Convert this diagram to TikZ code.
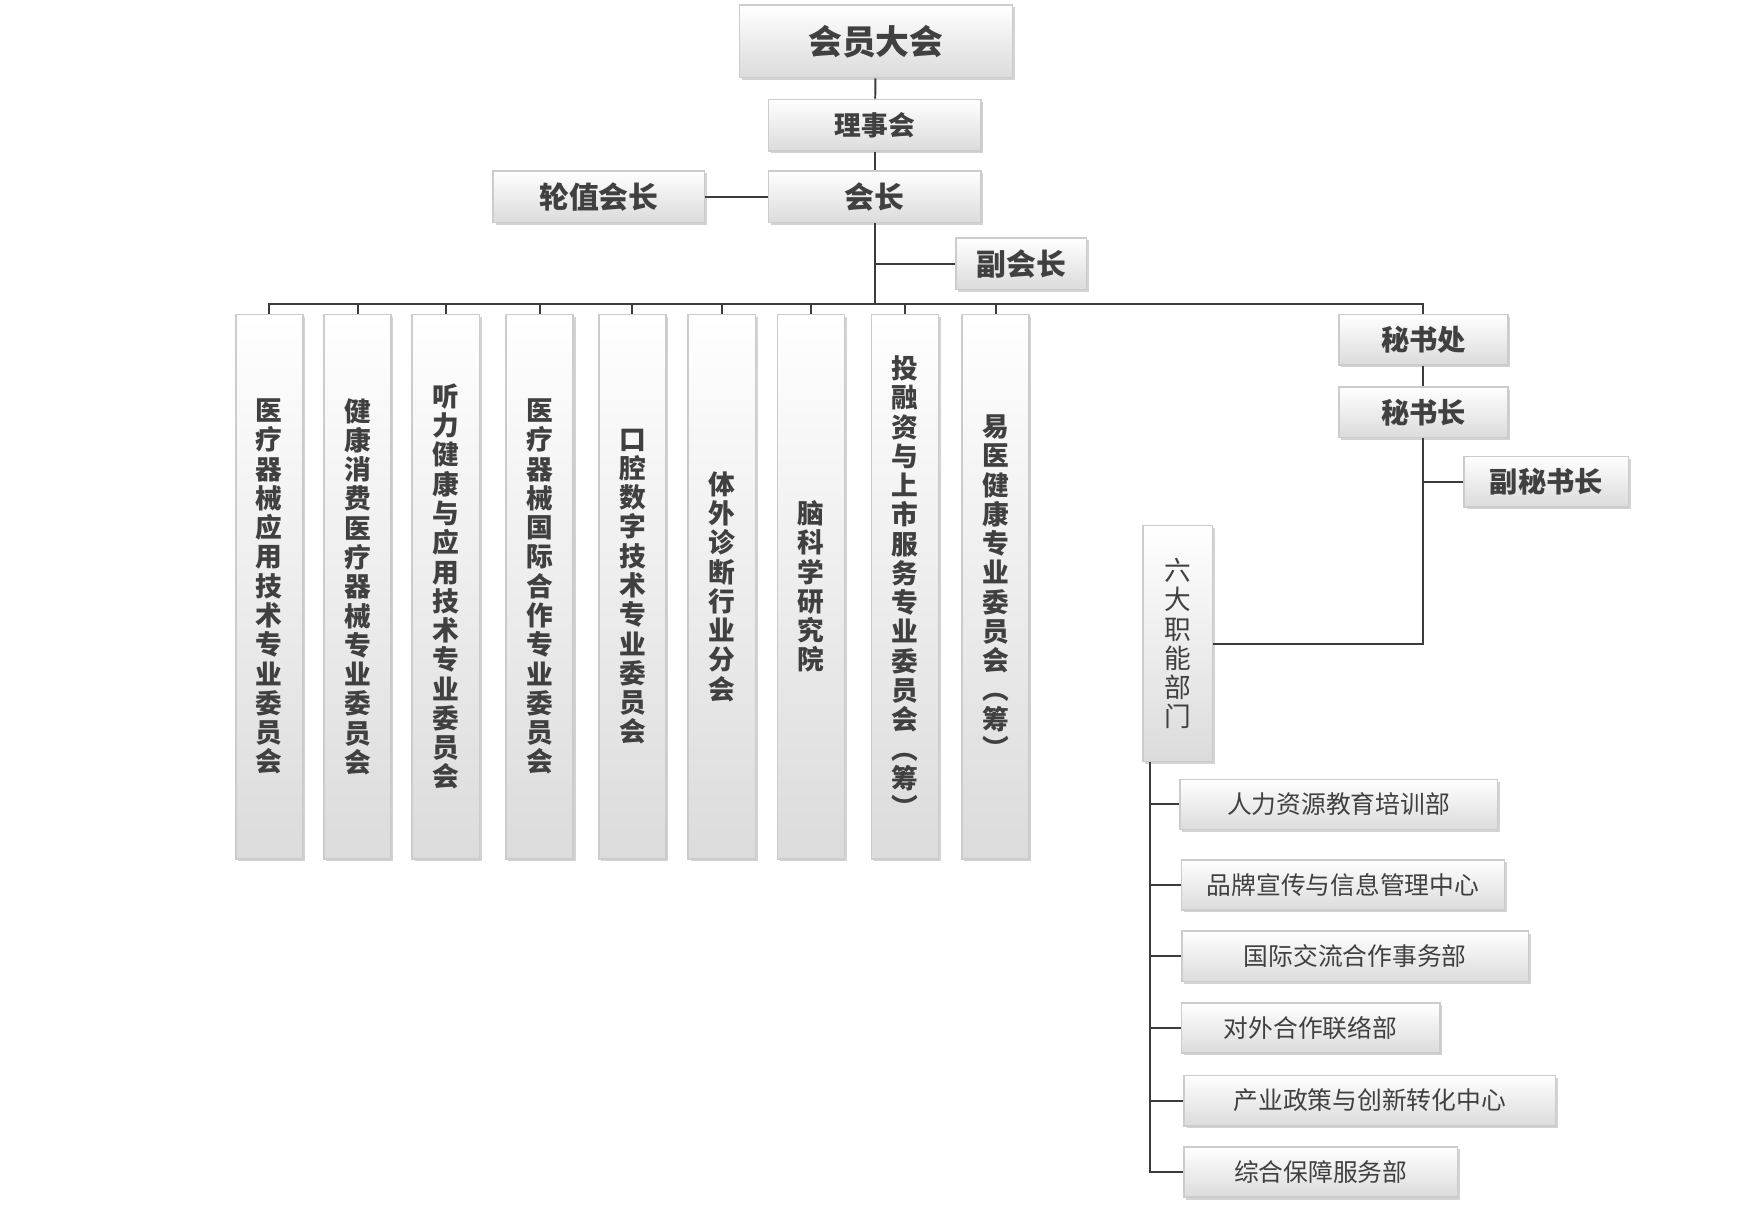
\documentclass[tikz,border=0pt]{standalone}
\usepackage{fontspec}
\setmainfont{Noto Sans CJK SC}
\usetikzlibrary{positioning,shadows,calc}
\definecolor{txt}{RGB}{64,64,64}
\definecolor{edge}{RGB}{60,60,60}
\tikzset{
  box/.style={draw=gray!40, top color=white, bottom color=gray!28, drop shadow={shadow xshift=0.6pt,shadow yshift=-0.6pt,opacity=0.35}, text=txt, inner sep=0pt, font=\bfseries},
  vbox/.style={box, minimum width=0.6cm, minimum height=4.87cm, align=center, font=\bfseries\fontsize{6.8}{7.45}\selectfont},
  dept/.style={box, minimum height=0.45cm, font=\fontsize{6.3}{7}\selectfont},
  conn/.style={draw=edge, line width=0.5pt}
}
\begin{document}
\begin{tikzpicture}[x=0.01cm,y=-0.01cm]
  \useasboundingbox (0,0) rectangle (1560,1078);
  % Define nodes
  \node[box, minimum width=2.44cm, minimum height=0.65cm, font=\bfseries\fontsize{8.6}{9}\selectfont] (meet) at (784,37) {会员大会};
  \node[box, minimum width=1.9cm, minimum height=0.46cm, font=\bfseries\fontsize{6.8}{7}\selectfont] (board) at (783,112) {理事会};
  \node[box, minimum width=1.9cm, minimum height=0.46cm, font=\bfseries\fontsize{7.6}{8}\selectfont] (pres) at (783,176) {会长};
  \node[box, minimum width=1.89cm, minimum height=0.46cm, font=\bfseries\fontsize{7.6}{8}\selectfont] (rot) at (536,176) {轮值会长};
  \node[box, minimum width=1.17cm, minimum height=0.46cm, font=\bfseries\fontsize{7.6}{8}\selectfont] (vice) at (914,236) {副会长};

  \node[vbox] (c1) at (241,525) {医\\疗\\器\\械\\应\\用\\技\\术\\专\\业\\委\\员\\会};
  \node[vbox] (c2) at (320,525) {健\\康\\消\\费\\医\\疗\\器\\械\\专\\业\\委\\员\\会};
  \node[vbox] (c3) at (399,525) {听\\力\\健\\康\\与\\应\\用\\技\\术\\专\\业\\委\\员\\会};
  \node[vbox] (c4) at (483,525) {医\\疗\\器\\械\\国\\际\\合\\作\\专\\业\\委\\员\\会};
  \node[vbox] (c5) at (566,525) {口\\腔\\数\\字\\技\\术\\专\\业\\委\\员\\会};
  \node[vbox] (c6) at (646,525) {体\\外\\诊\\断\\行\\业\\分\\会};
  \node[vbox] (c7) at (726,525) {脑\\科\\学\\研\\究\\院};
  \node[vbox] (c8) at (810,525) {投\\融\\资\\与\\上\\市\\服\\务\\专\\业\\委\\员\\会\\︵\\筹\\︶};
  \node[vbox] (c9) at (891,525) {易\\医\\健\\康\\专\\业\\委\\员\\会\\︵\\筹\\︶};

  \node[box, minimum width=1.51cm, minimum height=0.45cm, font=\bfseries\fontsize{7.2}{8}\selectfont] (sec) at (1274,304) {秘书处};
  \node[box, minimum width=1.51cm, minimum height=0.45cm, font=\bfseries\fontsize{7.2}{8}\selectfont] (secg) at (1274,369) {秘书长};
  \node[box, minimum width=1.47cm, minimum height=0.45cm, font=\bfseries\fontsize{7.2}{8}\selectfont] (dsec) at (1384,431) {副秘书长};
  \node[box, minimum width=0.62cm, minimum height=2.11cm, align=center, font=\fontsize{6.8}{7.45}\selectfont] (six) at (1054,576) {六\\大\\职\\能\\部\\门};

  \node[dept, minimum width=2.84cm] (d1) at (1198,720) {人力资源教育培训部};
  \node[dept, minimum width=2.89cm] (d2) at (1202,792) {品牌宣传与信息管理中心};
  \node[dept, minimum width=3.10cm] (d3) at (1213,856) {国际交流合作事务部};
  \node[dept, minimum width=2.31cm] (d4) at (1173,920) {对外合作联络部};
  \node[dept, minimum width=3.32cm] (d5) at (1226,985) {产业政策与创新转化中心};
  \node[dept, minimum width=2.45cm] (d6) at (1182,1049) {综合保障服务部};

  % Draw edges
  \coordinate (bus) at (783,272);
  \draw[conn] (meet) -- (board);
  \draw[conn] (board) -- (pres);
  \draw[conn] (rot) -- (pres);
  \draw[conn] (pres) -- (bus);
  \draw[conn] (vice.west) -- (vice.west -| pres);
  \draw[conn] (c1.north) |- (bus) -| (sec.north);
  \foreach \c in {c2,c3,c4,c5,c6,c7,c8,c9}
    \draw[conn] (\c.north) -- (\c.north |- bus);
  \draw[conn] (sec) -- (secg);
  \draw[conn] (secg.south) |- (six.east);
  \draw[conn] (dsec.west) -- (dsec.west -| secg);
  \coordinate (rail) at (1029,682);
  \draw[conn] (rail) |- (d6.west);
  \foreach \d in {d1,d2,d3,d4,d5}
    \draw[conn] (\d.west) -- (\d.west -| rail);
\end{tikzpicture}
\end{document}
